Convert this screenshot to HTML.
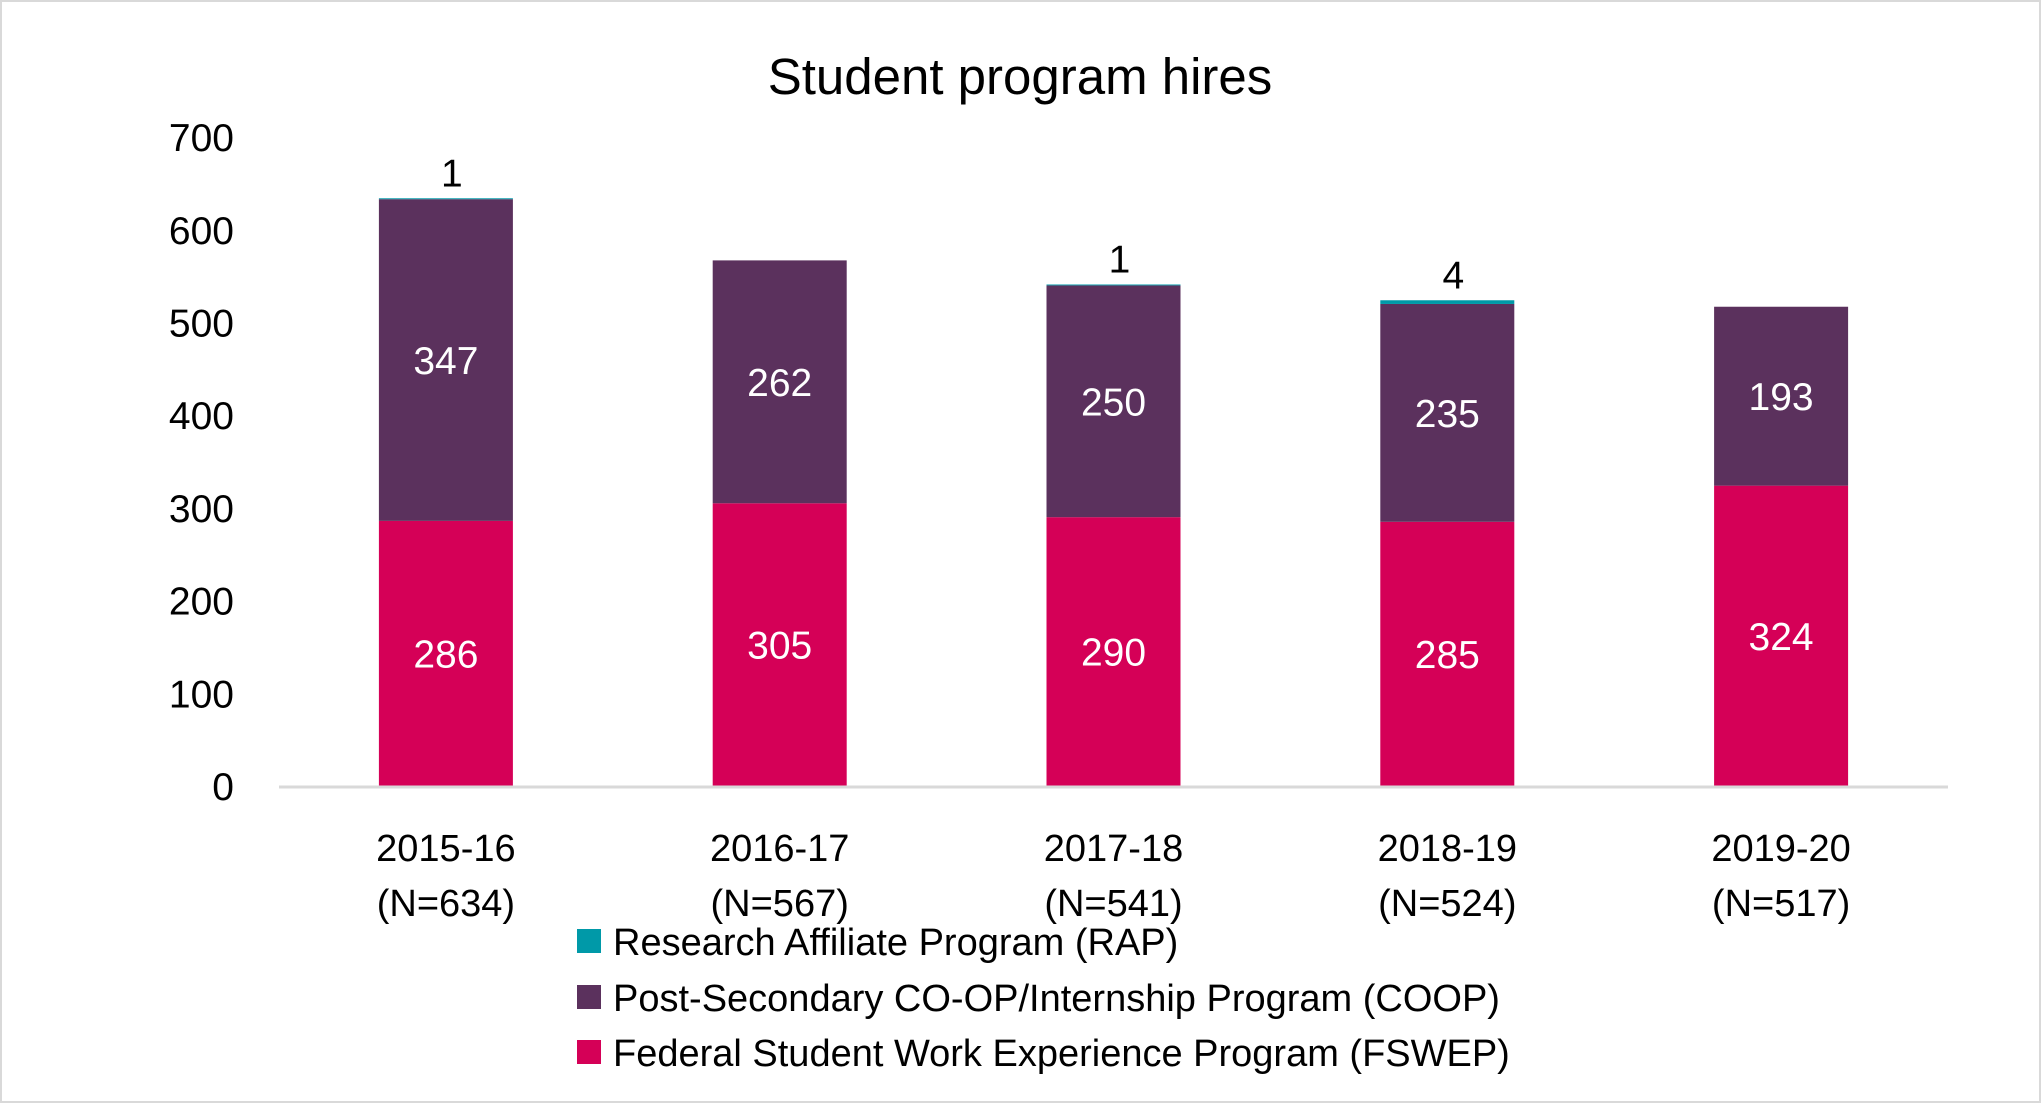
<!DOCTYPE html>
<html><head><meta charset="utf-8"><style>
html,body{margin:0;padding:0;background:#fff}
svg{display:block;font-family:"Liberation Sans",sans-serif}
</style></head><body>
<svg id="chart" width="2041" height="1103">
<rect x="1" y="1" width="2039" height="1101" fill="#fff" stroke="#d9d9d9" stroke-width="2"/>
<text x="1020" y="94" text-anchor="middle" font-size="51" fill="#000">Student program hires</text>
<g id="yaxis"></g>
<g id="bars"></g>
<g id="xaxis"></g>
<g>
<g><rect x="577" y="929" width="24" height="24" fill="#0099a8"/><text x="613" y="955" font-size="38">Research Affiliate Program (RAP)</text></g>
<g><rect x="577" y="985" width="24" height="24" fill="#5b315d"/><text x="613" y="1011" font-size="38">Post-Secondary CO-OP/Internship Program (COOP)</text></g>
<g><rect x="577" y="1040" width="24" height="24" fill="#d50057"/><text x="613" y="1066" font-size="38">Federal Student Work Experience Program (FSWEP)</text></g>
</g>
</svg>
<script>
const categories=["2015-16","2016-17","2017-18","2018-19","2019-20"];
const totals=["(N=634)","(N=567)","(N=541)","(N=524)","(N=517)"];
const fswep=[286,305,290,285,324];
const coop=[347,262,250,235,193];
const rap=[1,0,1,4,0];
const yTicks=[0,100,200,300,400,500,600,700];
const NS="http://www.w3.org/2000/svg";
const y0=786,pxPer=0.927,x0=279,x1=1948,bw=134;
function y(v){return y0-v*pxPer;}
function xc(i){return x0+(x1-x0)*(i+0.5)/categories.length;}
function mk(t,a,p){const e=document.createElementNS(NS,t);for(const k in a)e.setAttribute(k,a[k]);p.appendChild(e);return e;}
const ya=document.getElementById('yaxis'),bars=document.getElementById('bars'),xa=document.getElementById('xaxis');
yTicks.forEach(v=>{const t=mk('text',{x:234,y:y(v)+14,'text-anchor':'end','font-size':39,fill:'#000'},ya);t.textContent=v;

});
const base=mk('line',{x1:x0,x2:x1,y1:y0+1,y2:y0+1,stroke:'#d9d9d9','stroke-width':3},xa);


categories.forEach((c,i)=>{
 const cx=xc(i);
 const segs=[[fswep[i],'#d50057','fswep'],[coop[i],'#5b315d','coop'],[rap[i],'#0099a8','rap']];
 let acc=0;
 segs.forEach(([v,col,nm])=>{
  if(v<=0)return;
  const r=mk('rect',{x:cx-bw/2,y:y(acc+v),width:bw,height:v*pxPer,fill:col},bars);
  
  
  let t;
  if(nm==='rap'){t=mk('text',{x:cx+6,y:y(acc+v)-12,'text-anchor':'middle','font-size':39,fill:'#000'},bars);}
  else{t=mk('text',{x:cx,y:y(acc+v/2)+14,'text-anchor':'middle','font-size':39,fill:'#fff'},bars);}
  t.textContent=v;
  
  
  acc+=v;
 });
 const l1=mk('text',{x:cx,y:861,'text-anchor':'middle','font-size':38,fill:'#000'},xa);l1.textContent=c;
 
 
 const l2=mk('text',{x:cx,y:916,'text-anchor':'middle','font-size':38,fill:'#000'},xa);l2.textContent=totals[i];
 
 
});
</script>
</body></html>
